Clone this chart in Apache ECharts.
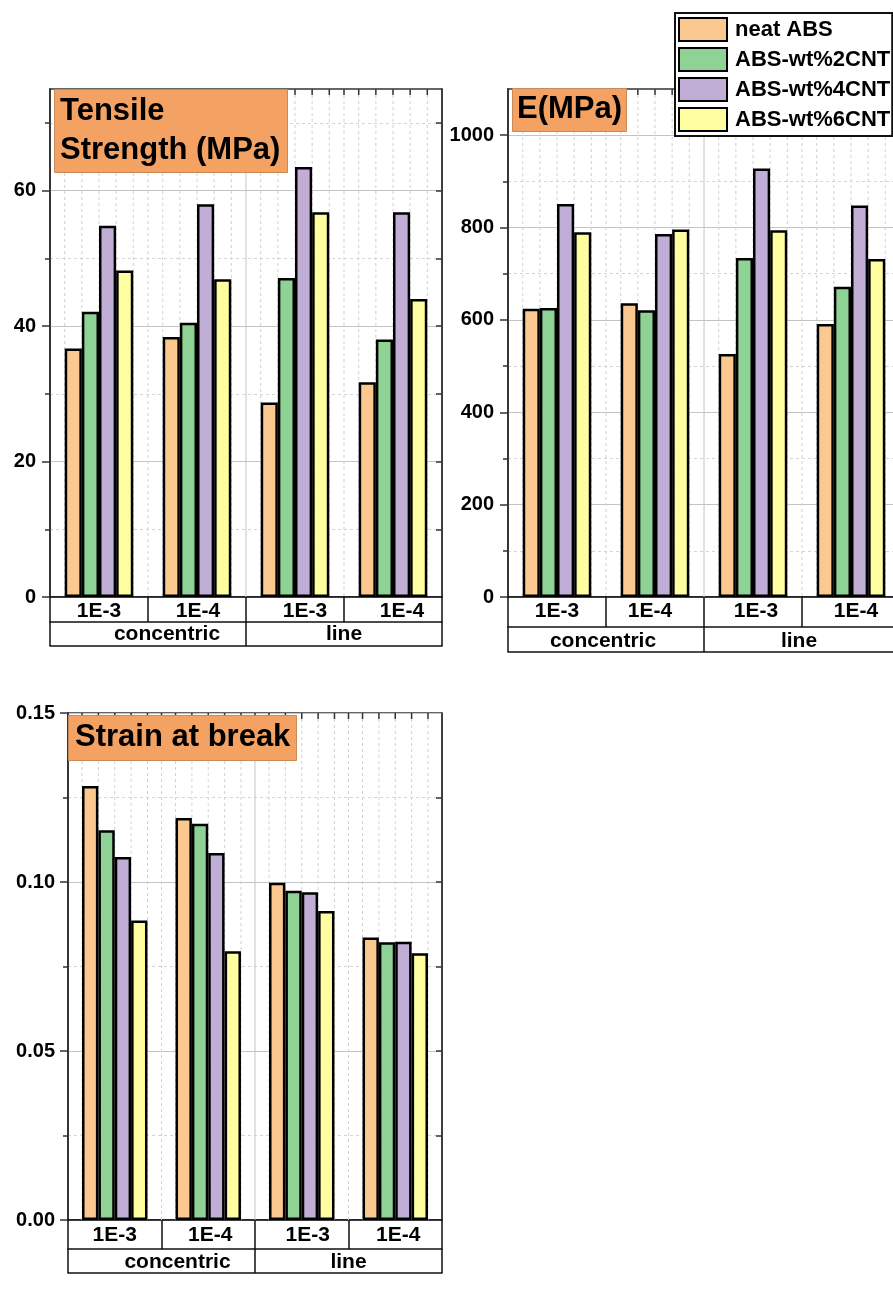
<!DOCTYPE html>
<html>
<head>
<meta charset="utf-8">
<script src="https://cdn.jsdelivr.net/npm/echarts@6/dist/echarts.min.js"></script>
<style>
  html, body { margin: 0; padding: 0; background: #ffffff; }
  #chart { width: 893px; height: 1304px; }
</style>
</head>
<body>
<div id="chart"></div>
<script>
// Printing-pattern categories and deposition-rate sub-categories
const categories = ['1E-3', '1E-4', '1E-3', '1E-4'];
const groups = ['concentric', 'line'];
const seriesNames = ['neat ABS', 'ABS-wt%2CNT', 'ABS-wt%4CNT', 'ABS-wt%6CNT'];

// Tensile strength (MPa)
const tensileNeat = [36.7, 38.4, 28.7, 31.7];
const tensile2CNT = [42.1, 40.5, 47.1, 38.0];
const tensile4CNT = [54.8, 58.0, 63.5, 56.8];
const tensile6CNT = [48.2, 46.9, 56.8, 44.0];

// Elastic modulus E (MPa)
const modulusNeat = [624, 636, 526, 591];
const modulus2CNT = [626, 621, 734, 672];
const modulus4CNT = [851, 786, 928, 848];
const modulus6CNT = [790, 796, 794, 732];

// Strain at break
const strainNeat = [0.1284, 0.1189, 0.0998, 0.0836];
const strain2CNT = [0.1153, 0.1172, 0.0974, 0.0822];
const strain4CNT = [0.1074, 0.1086, 0.0970, 0.0823];
const strain6CNT = [0.0886, 0.0795, 0.0914, 0.0789];

const barColors = ['#FBC98F', '#8ED296', '#C1AED6', '#FEFDA0'];
const FONT = "'Liberation Sans', Arial, sans-serif";
const INK = '#111111';

const panels = [
  {
    title: 'Tensile\nStrength (MPa)',
    titleBox: { left: 54, top: 89, padding: [3, 7, 3, 6] },
    grid: { left: 50, top: 89, width: 392, height: 508 },
    yMax: 75, major: 20, minor: 10, digits: 0, labelMargin: 14,
    rows: [25, 24], catMargin: 4, groupMargin: 2,
    catShift: [0, 1, 10, 9], groupShift: [19, 0],
    values: [tensileNeat, tensile2CNT, tensile4CNT, tensile6CNT]
  },
  {
    title: 'E(MPa)',
    titleBox: { left: 512, top: 88, padding: [2, 5, 3, 5] },
    grid: { left: 508, top: 89, width: 392, height: 508 },
    yMax: 1100, major: 200, minor: 100, digits: 0, labelMargin: 14,
    rows: [30, 25], catMargin: 4, groupMargin: 4,
    catShift: [0, -5, 3, 5], groupShift: [-3, -3],
    values: [modulusNeat, modulus2CNT, modulus4CNT, modulus6CNT]
  },
  {
    title: 'Strain at break',
    titleBox: { left: 68, top: 715, padding: [3, 6, 4, 7] },
    grid: { left: 68, top: 713, width: 374, height: 507 },
    yMax: 0.15, major: 0.05, minor: 0.025, digits: 2, labelMargin: 13,
    rows: [29, 24], catMargin: 5, groupMargin: 3,
    catShift: [0, 2, 6, 3], groupShift: [16, 0],
    values: [strainNeat, strain2CNT, strain4CNT, strain6CNT]
  }
];

function shiftPad(d) {
  return d >= 0 ? [0, 0, 0, 2 * d] : [0, -2 * d, 0, 0];
}

function stepsBetween(step, max, filterFn) {
  const out = [];
  const n = Math.round(max / step);
  for (let k = 1; k <= n; k++) {
    const v = +(k * step).toFixed(6);
    if (v < max - 1e-9 && filterFn(k)) out.push(v);
  }
  return out;
}

// Vertical guide lines and top-edge ticks at every bar edge and cell boundary
function renderGuides(params, api) {
  const cs = params.coordSys;
  const k = api.value(0);
  const cx = api.coord([k, 0])[0];
  const band = api.size([1, 0])[0];
  const span = band * 0.7; // bars fill 70% of each category (barCategoryGap 30%)
  const marks = [];
  for (let j = 0; j <= 4; j++) marks.push({ x: cx - span / 2 + j * span / 4, solid: false });
  if (k < categories.length - 1) marks.push({ x: cx + band / 2, solid: k === 1 });
  const children = [];
  marks.forEach(m => {
    children.push({
      type: 'line',
      shape: { x1: m.x, y1: cs.y, x2: m.x, y2: cs.y + cs.height },
      style: m.solid ? { stroke: '#c4c4c4', lineWidth: 1 }
                     : { stroke: '#d2d2d2', lineWidth: 1, lineDash: [3, 3] }
    });
    children.push({
      type: 'line',
      shape: { x1: m.x, y1: cs.y, x2: m.x, y2: cs.y + 6 },
      style: { stroke: '#333', lineWidth: 1.5 }
    });
  });
  return { type: 'group', children };
}

const option = {
  animation: false,
  backgroundColor: '#ffffff',
  title: [],
  grid: [],
  xAxis: [],
  yAxis: [],
  series: [],
  legend: {
    data: seriesNames,
    orient: 'vertical',
    left: 675,
    top: 13,
    padding: [4, 2, 4, 3],
    itemGap: 5,
    itemWidth: 48,
    itemHeight: 23,
    icon: 'rect',
    borderColor: INK,
    borderWidth: 2,
    borderRadius: 0,
    backgroundColor: '#ffffff',
    z: 10,
    selectedMode: false,
    textStyle: { fontSize: 22, fontWeight: 'bold', color: '#000', fontFamily: FONT, padding: [0, 0, 0, 3] }
  }
};

panels.forEach((p, i) => {
  option.grid.push(Object.assign({
    show: true, borderColor: '#333', borderWidth: 1.5, backgroundColor: 'transparent',
    outerBoundsMode: 'none', containLabel: false
  }, p.grid));

  option.title.push({
    text: p.title,
    left: p.titleBox.left,
    top: p.titleBox.top,
    padding: p.titleBox.padding,
    backgroundColor: '#F3A263',
    borderColor: '#C98A55',
    borderWidth: 1,
    textStyle: { fontSize: 31, fontWeight: 'bold', color: '#000', fontFamily: FONT, lineHeight: 39 }
  });

  const tableLine = { color: INK, width: 1.5 };
  // Level 1: deposition rate row
  option.xAxis.push({
    gridIndex: i, type: 'category', position: 'bottom',
    data: categories.map((c, k) => ({ value: c, textStyle: { padding: shiftPad(p.catShift[k]) } })),
    axisLine: { show: true, onZero: false, lineStyle: tableLine },
    axisTick: { show: true, length: p.rows[0], lineStyle: tableLine },
    axisLabel: { fontSize: 21, fontWeight: 'bold', color: '#000', fontFamily: FONT, margin: p.catMargin },
    splitLine: { show: false }
  });
  // Level 2: printing pattern row
  option.xAxis.push({
    gridIndex: i, type: 'category', position: 'bottom', offset: p.rows[0],
    data: groups.map((g, k) => ({ value: g, textStyle: { padding: shiftPad(p.groupShift[k]) } })),
    axisLine: { show: true, onZero: false, lineStyle: tableLine },
    axisTick: { show: true, length: p.rows[1], lineStyle: tableLine },
    axisLabel: { fontSize: 21, fontWeight: 'bold', color: '#000', fontFamily: FONT, margin: p.groupMargin },
    splitLine: { show: false }
  });
  // Closing line under the table
  option.xAxis.push({
    gridIndex: i, type: 'category', position: 'bottom', offset: p.rows[0] + p.rows[1],
    data: groups,
    axisLine: { show: true, onZero: false, lineStyle: tableLine },
    axisTick: { show: false }, axisLabel: { show: false }, splitLine: { show: false }
  });

  const majors = [];
  for (let k = 0; k * p.major <= p.yMax + 1e-9; k++) majors.push(+(k * p.major).toFixed(6));
  const oddMinors = stepsBetween(p.minor, p.yMax, k => k % 2 === 1);
  const allMinors = stepsBetween(p.minor, p.yMax, () => true);

  // Right mirror axis: inward ticks and dashed minor grid
  option.yAxis.push({
    gridIndex: i, type: 'value', position: 'right', min: 0, max: p.yMax, interval: p.minor,
    axisLine: { show: true, onZero: false, lineStyle: { color: '#333', width: 1.5 } },
    axisTick: { show: true, inside: true, length: 6, customValues: allMinors, lineStyle: { color: '#333', width: 1.5 } },
    axisLabel: { show: false },
    splitLine: { show: true, lineStyle: { color: '#d4d4d4', width: 1, type: [3, 3] } }
  });
  // Left minor ticks
  option.yAxis.push({
    gridIndex: i, type: 'value', position: 'left', min: 0, max: p.yMax, interval: p.minor,
    axisLine: { show: true, onZero: false, lineStyle: { color: '#333', width: 1.5 } },
    axisTick: { show: true, length: 5, customValues: oddMinors, lineStyle: { color: '#333', width: 1.5 } },
    axisLabel: { show: false },
    splitLine: { show: false }
  });
  // Left major axis with labels and solid grid
  option.yAxis.push({
    gridIndex: i, type: 'value', position: 'left', min: 0, max: p.yMax, interval: p.major,
    axisLine: { show: true, onZero: false, lineStyle: { color: '#333', width: 1.5 } },
    axisTick: { show: true, length: 8, customValues: majors, lineStyle: { color: '#333', width: 1.5 } },
    axisLabel: {
      customValues: majors, margin: p.labelMargin,
      fontSize: 20, fontWeight: 'bold', color: '#000', fontFamily: FONT,
      formatter: v => Number(v).toFixed(p.digits)
    },
    splitLine: { show: true, lineStyle: { color: '#c4c4c4', width: 1 } }
  });

  const xIdx = i * 3;
  const yIdx = i * 3 + 2;

  option.series.push({
    type: 'custom',
    xAxisIndex: xIdx, yAxisIndex: yIdx,
    data: categories.map((c, k) => [k, 0]),
    encode: { x: 0, y: 1 },
    renderItem: renderGuides,
    silent: true,
    z: 1
  });

  p.values.forEach((vals, s) => {
    option.series.push({
      type: 'bar',
      name: seriesNames[s],
      xAxisIndex: xIdx, yAxisIndex: yIdx,
      data: vals,
      barGap: '0%',
      barCategoryGap: '30%',
      itemStyle: { color: barColors[s], borderColor: '#000', borderWidth: 2.5 },
      emphasis: { disabled: true },
      z: 3
    });
  });
});

const chart = echarts.init(document.getElementById('chart'), null, { renderer: 'canvas' });
chart.setOption(option);
</script>
</body>
</html>
